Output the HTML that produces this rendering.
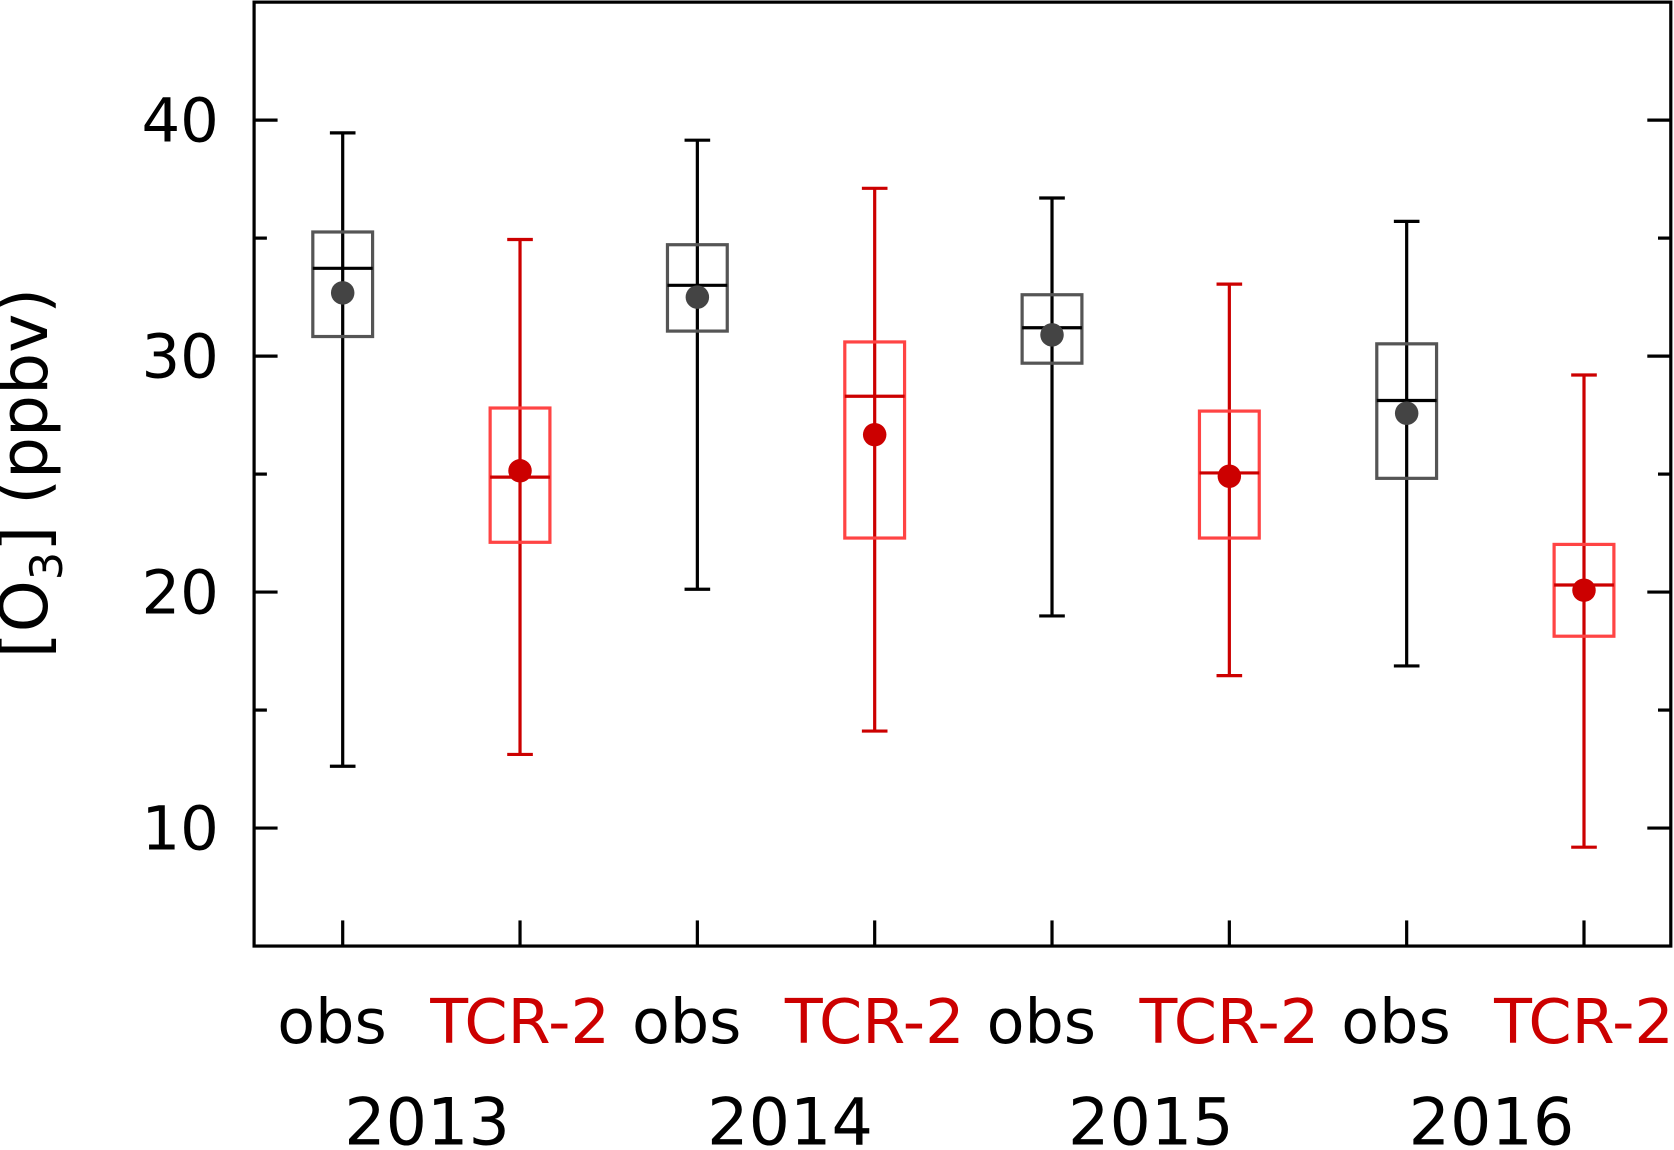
<!DOCTYPE html>
<html><head><meta charset="utf-8"><style>
html,body{margin:0;padding:0;background:#fff}
svg{display:block}
text{font-family:"DejaVu Sans","Liberation Sans",sans-serif}
</style></head><body>
<svg id="chart" width="1674" height="1150" viewBox="0 0 1568 1077" preserveAspectRatio="none" xmlns="http://www.w3.org/2000/svg">
<g id="plot"></g>
</svg>
<script>
const categories = ["obs","TCR-2","obs","TCR-2","obs","TCR-2","obs","TCR-2"];
const years = ["2013","2014","2015","2016"];
const whiskerTop = [39.46,34.94,39.15,37.11,36.7,33.05,35.71,29.2];
const whiskerBottom = [12.62,13.12,20.12,14.11,18.99,16.46,16.87,9.19];
const boxTop = [35.26,27.8,34.72,30.6,32.6,27.67,30.52,22.02];
const boxBottom = [30.83,22.11,31.06,22.29,29.7,22.29,24.82,18.13];
const medians = [33.72,24.87,33.0,28.3,31.2,25.05,28.12,20.3];
const means = [32.68,25.14,32.5,26.67,30.9,24.91,27.58,20.08];
const yMajorTicks = [10,20,30,40];
const yMinorTicks = [15,25,35];

const L=238,R=1565,T=2,B=886,yMin=5,yMax=45;
const y=v=>B-(v-yMin)/(yMax-yMin)*(B-T);
const x=i=>321+i*166.1;
const g=document.getElementById('plot');
const NS="http://www.w3.org/2000/svg";
function mk(tag,attrs,parent){const e=document.createElementNS(NS,tag);for(const k in attrs)e.setAttribute(k,attrs[k]);(parent||g).appendChild(e);return e;}

let fr=mk('rect',{x:L,y:T,width:R-L,height:B-T,fill:'none',stroke:'#000','stroke-width':3});



yMajorTicks.forEach(v=>{
  const t=mk('line',{x1:L,x2:L+22,y1:y(v),y2:y(v),stroke:'#000','stroke-width':3});
  
  
  mk('line',{x1:R-22,x2:R,y1:y(v),y2:y(v),stroke:'#000','stroke-width':3});
  const lb=mk('text',{x:205,y:y(v)+20,'text-anchor':'end','font-size':57,fill:'#000'});
  lb.textContent=v;
  
  
});
yMinorTicks.forEach(v=>{
  mk('line',{x1:L,x2:L+12,y1:y(v),y2:y(v),stroke:'#000','stroke-width':3});
  mk('line',{x1:R-12,x2:R,y1:y(v),y2:y(v),stroke:'#000','stroke-width':3});
});

categories.forEach((c,i)=>{
  const cx=x(i), obs=c==='obs';
  const wc=obs?'#000':'#cc0000', bc=obs?'#555':'#ff4444', mc=obs?'#444':'#cc0000';
  mk('line',{x1:cx,x2:cx,y1:B-24,y2:B,stroke:'#000','stroke-width':3});
  const grp=mk('g',{});
  
  
  mk('line',{x1:cx,x2:cx,y1:y(whiskerTop[i]),y2:y(whiskerBottom[i]),stroke:wc,'stroke-width':3},grp);
  mk('line',{x1:cx-12,x2:cx+12,y1:y(whiskerTop[i]),y2:y(whiskerTop[i]),stroke:wc,'stroke-width':3},grp);
  mk('line',{x1:cx-12,x2:cx+12,y1:y(whiskerBottom[i]),y2:y(whiskerBottom[i]),stroke:wc,'stroke-width':3},grp);
  mk('rect',{x:cx-28,y:y(boxTop[i]),width:56,height:y(boxBottom[i])-y(boxTop[i]),fill:'none',stroke:bc,'stroke-width':3},grp);
  mk('line',{x1:cx-28,x2:cx+28,y1:y(medians[i]),y2:y(medians[i]),stroke:wc,'stroke-width':3},grp);
  mk('circle',{cx:cx,cy:y(means[i]),r:11,fill:mc},grp);
  const lb=mk('text',{x:cx-(obs?10:0),y:977,'text-anchor':'middle','font-size':58,fill:obs?'#000':'#cc0000'});
  lb.textContent=c;
  
  
});
const yearX=[400,740,1078,1397];
years.forEach((yr,j)=>{
  const t=mk('text',{x:yearX[j],y:1072,'text-anchor':'middle','font-size':61,fill:'#000'});
  t.textContent=yr;
  
  
});
const yt=mk('text',{transform:'translate(44,443) rotate(-90)','text-anchor':'middle','font-size':62,fill:'#000'});
yt.innerHTML='[O<tspan font-size="42" dy="14">3</tspan><tspan dy="-14">] (ppbv)</tspan>';


</script>
</body></html>
